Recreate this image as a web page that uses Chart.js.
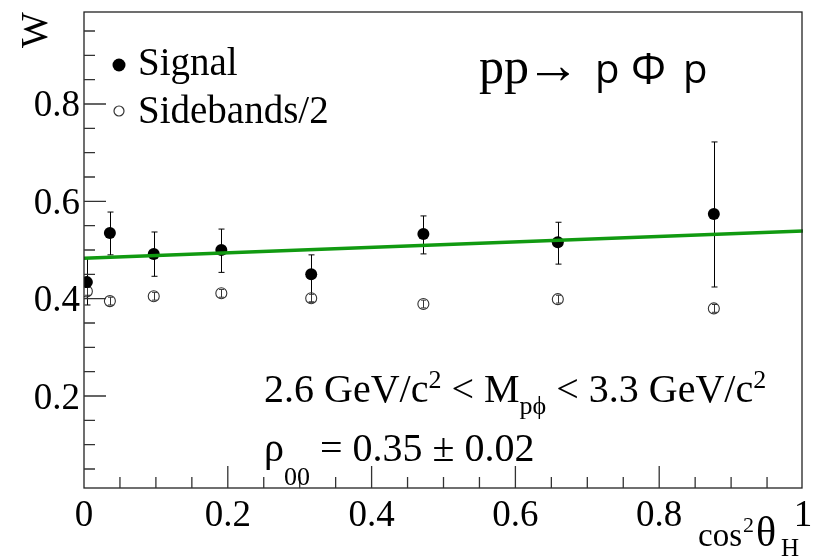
<!DOCTYPE html>
<html>
<head>
<meta charset="utf-8">
<script src="https://cdn.jsdelivr.net/npm/chart.js@4.4.1/dist/chart.umd.min.js"></script>
<style>
  body { margin: 0; background: #fff; }
  #wrap { width: 815px; height: 559px; }
</style>
</head>
<body>
<div id="wrap"><canvas id="wChart" width="815" height="559"></canvas></div>
<script>
// cos^2(theta_H) bin centres
const cosBins = [0.004, 0.036, 0.097, 0.191, 0.316, 0.472, 0.659, 0.876];

// Signal
const signalW    = [0.434, 0.535, 0.492, 0.500, 0.450, 0.533, 0.516, 0.574];
const signalLow  = [0.387, 0.490, 0.446, 0.454, 0.393, 0.492, 0.471, 0.424];
const signalHigh = [0.483, 0.578, 0.537, 0.543, 0.490, 0.570, 0.557, 0.722];

// Sidebands/2
const sideW    = [0.415, 0.395, 0.405, 0.411, 0.401, 0.389, 0.399, 0.380];
const sideLow  = [0.407, 0.387, 0.397, 0.403, 0.393, 0.381, 0.391, 0.372];
const sideHigh = [0.423, 0.403, 0.413, 0.419, 0.409, 0.397, 0.407, 0.388];

// linear fit, value at x=0 and x=1
const fitX = [0, 1];
const fitW = [0.483, 0.539];

// axes
const xTicks = [0, 0.2, 0.4, 0.6, 0.8, 1];
const xTickLabels = ['0', '0.2', '0.4', '0.6', '0.8', '1'];
const yTicks = [0.2, 0.4, 0.6, 0.8];
const yTickLabels = ['0.2', '0.4', '0.6', '0.8'];
const minorStep = 0.05;

const SERIF = '"Liberation Serif", "DejaVu Serif", serif';
const SANS = '"Open Sans", "DejaVu Sans", sans-serif';

function toPoints(xs, ys) {
  return xs.map((x, i) => ({ x: x, y: ys[i] }));
}

// error bars, drawn under the markers
const errorBars = {
  id: 'errorBars',
  beforeDatasetsDraw(chart) {
    const ctx = chart.ctx;
    const xs = chart.scales.x, ys = chart.scales.y;
    const sets = [
      { lo: signalLow, hi: signalHigh, color: '#000', cap: 3 },
      { lo: sideLow, hi: sideHigh, color: '#333', cap: 2.5 }
    ];
    ctx.save();
    ctx.lineWidth = 1;
    sets.forEach(s => {
      ctx.strokeStyle = s.color;
      cosBins.forEach((c, i) => {
        const px = Math.round(xs.getPixelForValue(c)) + 0.5;
        const y1 = ys.getPixelForValue(s.lo[i]);
        const y2 = ys.getPixelForValue(s.hi[i]);
        ctx.beginPath();
        ctx.moveTo(px, y1); ctx.lineTo(px, y2);
        ctx.moveTo(px - s.cap, y1); ctx.lineTo(px + s.cap, y1);
        ctx.moveTo(px - s.cap, y2); ctx.lineTo(px + s.cap, y2);
        ctx.stroke();
      });
    });
    ctx.restore();
  }
};

// ROOT style frame, inner ticks, labels and annotations
const rootFrame = {
  id: 'rootFrame',
  afterDraw(chart) {
    const ctx = chart.ctx;
    const a = chart.chartArea;
    const xs = chart.scales.x, ys = chart.scales.y;
    ctx.save();

    // frame
    ctx.strokeStyle = '#222';
    ctx.lineWidth = 1.3;
    ctx.strokeRect(a.left, a.top, a.right - a.left - 1, a.bottom - a.top);

    // ticks
    ctx.lineWidth = 1.3;
    ctx.strokeStyle = '#333';
    ctx.beginPath();
    for (let v = minorStep; v < ys.max; v += minorStep) {
      const major = yTicks.some(t => Math.abs(t - v) < 1e-6);
      const py = ys.getPixelForValue(v);
      ctx.moveTo(a.left, py);
      ctx.lineTo(a.left + (major ? 22 : 11), py);
    }
    for (let v = minorStep; v < xs.max - 1e-6; v += minorStep) {
      const major = xTicks.some(t => Math.abs(t - v) < 1e-6);
      const px = xs.getPixelForValue(v);
      ctx.moveTo(px, a.bottom);
      ctx.lineTo(px, a.bottom - (major ? 22 : 11));
    }
    ctx.stroke();

    // tick labels
    ctx.fillStyle = '#000';
    ctx.font = '37px ' + SERIF;
    ctx.textAlign = 'center';
    ctx.textBaseline = 'alphabetic';
    xTicks.forEach((t, i) => {
      ctx.fillText(xTickLabels[i], xs.getPixelForValue(t), a.bottom + 38);
    });
    ctx.textAlign = 'right';
    yTicks.forEach((t, i) => {
      ctx.fillText(yTickLabels[i], a.left - 4, ys.getPixelForValue(t) + 12.5);
    });

    // axis titles
    ctx.save();
    ctx.translate(47, 30);
    ctx.rotate(-Math.PI / 2);
    ctx.textAlign = 'center';
    ctx.font = '38px ' + SERIF;
    ctx.fillText('W', 0, 0);
    ctx.restore();

    ctx.textAlign = 'left';
    ctx.font = '33px ' + SERIF;
    ctx.fillText('cos', 698, 546);
    ctx.font = '22px ' + SERIF;
    ctx.fillText('2', 743, 532);
    ctx.font = '42px ' + SERIF;
    ctx.fillText('\u03B8', 756, 546);
    ctx.font = '25px ' + SERIF;
    ctx.fillText('H', 781, 556);

    // legend
    ctx.fillStyle = '#000';
    ctx.beginPath();
    ctx.arc(119, 65, 6.5, 0, Math.PI * 2);
    ctx.fill();
    ctx.strokeStyle = '#333';
    ctx.lineWidth = 1.2;
    ctx.beginPath();
    ctx.arc(119, 111, 5, 0, Math.PI * 2);
    ctx.stroke();
    ctx.font = '39px ' + SERIF;
    ctx.fillText('Signal', 138, 75);
    ctx.fillText('Sidebands/2', 138, 123);

    // reaction
    ctx.font = '50px ' + SERIF;
    ctx.fillText('pp', 479, 83);
    ctx.font = '54px ' + SERIF;
    ctx.fillText('\u2192', 526, 83);
    ctx.font = '40px ' + SANS;
    ctx.fillText('p', 595, 83);
    ctx.font = '44px ' + SANS;
    ctx.fillText('\u03A6', 631, 84);
    ctx.font = '40px ' + SANS;
    ctx.fillText('p', 683, 83);

    // mass window
    let x = 264;
    const base1 = 402;
    const piece = (txt, size, dy) => {
      ctx.font = size + 'px ' + SERIF;
      ctx.fillText(txt, x, base1 + dy);
      x += ctx.measureText(txt).width;
    };
    piece('2.6 GeV/c', 40, 0);
    piece('2', 26, -14);
    piece(' < M', 40, 0);
    piece('p\u03D5', 26, 12);
    piece(' < 3.3 GeV/c', 40, 0);
    piece('2', 26, -14);

    // rho00
    x = 264;
    ctx.font = '40px ' + SERIF;
    ctx.fillText('\u03C1', x, 461); x += ctx.measureText('\u03C1').width;
    ctx.font = '26px ' + SERIF;
    ctx.fillText('00', x, 485); x += ctx.measureText('00').width;
    ctx.font = '40px ' + SERIF;
    ctx.fillText(' = 0.35 \u00B1 0.02', x, 461);

    ctx.restore();
  }
};

const ctx = document.getElementById('wChart').getContext('2d');
const wChart = new Chart(ctx, {
  type: 'scatter',
  data: {
    datasets: [
      {
        type: 'line',
        label: 'fit',
        data: toPoints(fitX, fitW),
        borderColor: '#119a11',
        borderWidth: 3.5,
        pointRadius: 0,
        fill: false,
        order: 0
      },
      {
        label: 'Signal',
        data: toPoints(cosBins, signalW),
        pointRadius: 6,
        pointBackgroundColor: '#000',
        pointBorderColor: '#000',
        pointBorderWidth: 0,
        order: 1
      },
      {
        label: 'Sidebands/2',
        data: toPoints(cosBins, sideW),
        pointRadius: 5.5,
        pointBackgroundColor: 'rgba(0,0,0,0)',
        pointBorderColor: '#333',
        pointBorderWidth: 1.1,
        order: 2
      }
    ]
  },
  options: {
    responsive: false,
    animation: false,
    devicePixelRatio: 1,
    layout: { padding: { top: 12, right: 12, left: 0, bottom: 0 } },
    plugins: {
      legend: { display: false },
      tooltip: { enabled: false }
    },
    scales: {
      x: {
        type: 'linear',
        min: 0,
        max: 1,
        afterBuildTicks: s => { s.ticks = xTicks.map(v => ({ value: v })); },
        afterFit: s => { s.height = 71; },
        ticks: { display: false },
        grid: { display: false },
        border: { display: false }
      },
      y: {
        type: 'linear',
        min: 0.011,
        max: 0.989,
        afterBuildTicks: s => { s.ticks = yTicks.map(v => ({ value: v })); },
        afterFit: s => { s.width = 84; },
        ticks: { display: false },
        grid: { display: false },
        border: { display: false }
      }
    }
  },
  plugins: [errorBars, rootFrame]
});
</script>
</body>
</html>
